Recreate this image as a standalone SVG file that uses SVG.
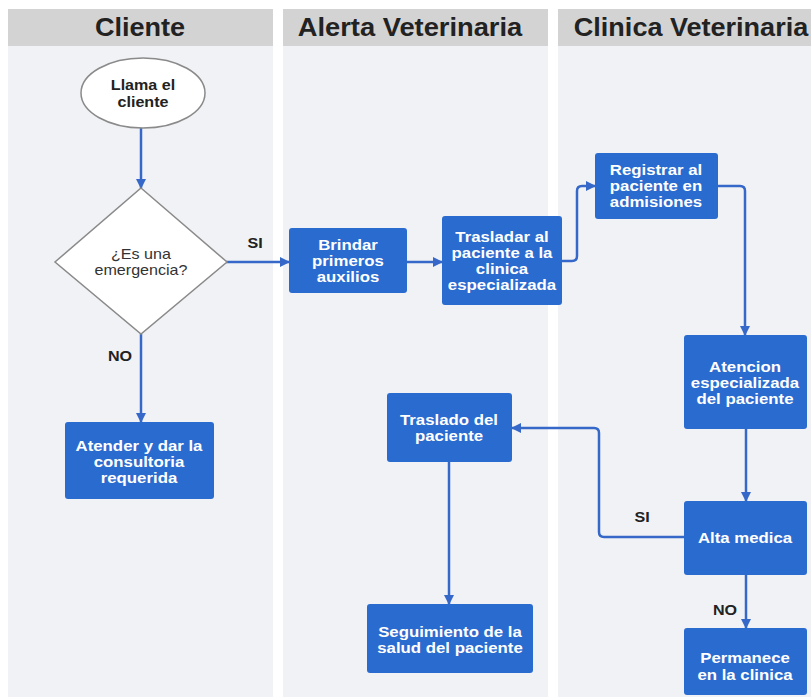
<svg xmlns="http://www.w3.org/2000/svg" width="811" height="697" viewBox="0 0 811 697">
<style>
.lane{fill:#f1f2f5}
.hdr{fill:#d3d3d3}
.htxt{font-family:"Liberation Sans",Arial,sans-serif;font-weight:bold;font-size:26px;fill:#222;text-anchor:middle}
.box{fill:#2a6bd0}
.btxt{font-family:"Liberation Sans",Arial,sans-serif;font-weight:bold;font-size:14px;fill:#fff;text-anchor:middle}
.term{fill:#fff;stroke:#8a8a8a;stroke-width:1.5}
.ttxt{font-family:"Liberation Sans",Arial,sans-serif;font-weight:bold;font-size:14px;fill:#222;text-anchor:middle}
.dtxt{font-family:"Liberation Sans",Arial,sans-serif;font-size:14px;fill:#333;text-anchor:middle}
.lbl{font-family:"Liberation Sans",Arial,sans-serif;font-weight:bold;font-size:14px;fill:#222;text-anchor:middle}
.con{fill:none;stroke:#3568c8;stroke-width:2.5;marker-end:url(#ah)}
</style>
<defs>
<marker id="ah" viewBox="0 0 10 10" refX="9" refY="5" markerWidth="4" markerHeight="4" orient="auto" markerUnits="strokeWidth">
<path d="M0,0 L10,5 L0,10 z" fill="#3568c8"/>
</marker>
</defs>
<rect width="811" height="697" fill="#fff"/>
<g id="lanes">
<rect class="lane" x="8" y="46" width="265" height="651"/>
<rect class="lane" x="283" y="46" width="265" height="651"/>
<rect class="lane" x="558" y="46" width="253" height="651"/>
<rect class="hdr" x="8" y="9" width="265" height="37"/>
<rect class="hdr" x="283" y="9" width="265" height="37"/>
<rect class="hdr" x="558" y="9" width="253" height="37"/>
<text class="htxt" transform="translate(140,0) scale(1.04,1)" x="0" y="36">Cliente</text>
<text class="htxt" transform="translate(410,0) scale(1.05,1)" x="0" y="36">Alerta Veterinaria</text>
<text class="htxt" transform="translate(691,0) scale(1.04,1)" x="0" y="36">Clinica Veterinaria</text>
</g>
<g id="connectors">
<path class="con" d="M141,128 V188"/>
<path class="con" d="M226,262 H289"/>
<path class="con" d="M141,334 V422"/>
<path class="con" d="M407,262 H442"/>
<path class="con" d="M562,261 H572 Q577,261 577,256 V191 Q577,186 582,186 H595"/>
<path class="con" d="M718,186 H740 Q745,186 745,191 V335"/>
<path class="con" d="M746,429 V501"/>
<path class="con" d="M684,537 H604 Q599,537 599,532 V433 Q599,428 594,428 H512"/>
<path class="con" d="M746,575 V628"/>
<path class="con" d="M449,462 V604"/>
<text class="lbl" transform="translate(255,0) scale(1.15,1)" x="0" y="248">SI</text>
<text class="lbl" transform="translate(120,0) scale(1.15,1)" x="0" y="361">NO</text>
<text class="lbl" transform="translate(642,0) scale(1.15,1)" x="0" y="522">SI</text>
<text class="lbl" transform="translate(725,0) scale(1.15,1)" x="0" y="615">NO</text>
</g>
<g id="n-llama">
<ellipse class="term" cx="143" cy="93" rx="62" ry="35"/>
<text class="ttxt" transform="translate(143,0) scale(1.15,1)" x="0" y="90">Llama el</text>
<text class="ttxt" transform="translate(143,0) scale(1.15,1)" x="0" y="107">cliente</text>
</g>
<g id="n-emergencia">
<polygon class="term" points="141,188 227,262 141,334 55,262"/>
<text class="dtxt" transform="translate(141,0) scale(1.15,1)" x="0" y="259">¿Es una</text>
<text class="dtxt" transform="translate(141,0) scale(1.15,1)" x="0" y="275">emergencia?</text>
</g>
<g id="n-atender">
<rect class="box" x="65" y="422" width="149" height="77" rx="3"/>
<text class="btxt" transform="translate(139,0) scale(1.2,1)" x="0" y="451">Atender y dar la</text>
<text class="btxt" transform="translate(139,0) scale(1.2,1)" x="0" y="467">consultoria</text>
<text class="btxt" transform="translate(139,0) scale(1.2,1)" x="0" y="483">requerida</text>
</g>
<g id="n-brindar">
<rect class="box" x="289" y="228" width="118" height="65" rx="3"/>
<text class="btxt" transform="translate(348,0) scale(1.2,1)" x="0" y="250.5">Brindar</text>
<text class="btxt" transform="translate(348,0) scale(1.2,1)" x="0" y="266.5">primeros</text>
<text class="btxt" transform="translate(348,0) scale(1.2,1)" x="0" y="282.5">auxilios</text>
</g>
<g id="n-trasladar">
<rect class="box" x="442" y="216" width="120" height="89" rx="3"/>
<text class="btxt" transform="translate(502,0) scale(1.2,1)" x="0" y="242">Trasladar al</text>
<text class="btxt" transform="translate(502,0) scale(1.2,1)" x="0" y="258">paciente a la</text>
<text class="btxt" transform="translate(502,0) scale(1.2,1)" x="0" y="274">clinica</text>
<text class="btxt" transform="translate(502,0) scale(1.2,1)" x="0" y="290">especializada</text>
</g>
<g id="n-registrar">
<rect class="box" x="595" y="153" width="123" height="66" rx="3"/>
<text class="btxt" transform="translate(656,0) scale(1.2,1)" x="0" y="175.5">Registrar al</text>
<text class="btxt" transform="translate(656,0) scale(1.2,1)" x="0" y="191.5">paciente en</text>
<text class="btxt" transform="translate(656,0) scale(1.2,1)" x="0" y="207.5">admisiones</text>
</g>
<g id="n-atencion">
<rect class="box" x="684" y="335" width="123" height="94" rx="3"/>
<text class="btxt" transform="translate(745,0) scale(1.2,1)" x="0" y="372">Atencion</text>
<text class="btxt" transform="translate(745,0) scale(1.2,1)" x="0" y="388">especializada</text>
<text class="btxt" transform="translate(745,0) scale(1.2,1)" x="0" y="404">del paciente</text>
</g>
<g id="n-alta">
<rect class="box" x="684" y="501" width="123" height="74" rx="3"/>
<text class="btxt" transform="translate(745,0) scale(1.2,1)" x="0" y="543">Alta medica</text>
</g>
<g id="n-permanece">
<rect class="box" x="684" y="628" width="123" height="67" rx="3"/>
<text class="btxt" transform="translate(745,0) scale(1.2,1)" x="0" y="663">Permanece</text>
<text class="btxt" transform="translate(745,0) scale(1.2,1)" x="0" y="680">en la clinica</text>
</g>
<g id="n-traslado">
<rect class="box" x="387" y="393" width="125" height="69" rx="3"/>
<text class="btxt" transform="translate(449,0) scale(1.2,1)" x="0" y="425">Traslado del</text>
<text class="btxt" transform="translate(449,0) scale(1.2,1)" x="0" y="441">paciente</text>
</g>
<g id="n-seguimiento">
<rect class="box" x="367" y="604" width="166" height="69" rx="3"/>
<text class="btxt" transform="translate(450,0) scale(1.2,1)" x="0" y="637">Seguimiento de la</text>
<text class="btxt" transform="translate(450,0) scale(1.2,1)" x="0" y="653">salud del paciente</text>
</g>
</svg>
